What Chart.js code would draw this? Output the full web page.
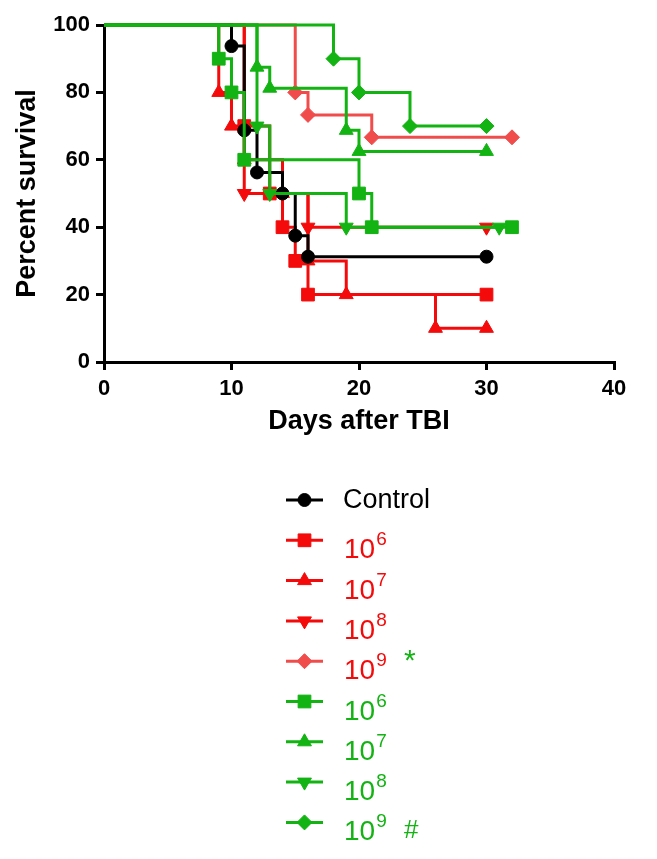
<!DOCTYPE html>
<html>
<head>
<meta charset="utf-8">
<title>Survival after TBI</title>
<script src="https://cdn.jsdelivr.net/npm/chart.js@4.4.0/dist/chart.umd.min.js"></script>
<style>
  html, body { margin: 0; padding: 0; background: #fff; }
  #wrap { width: 657px; height: 859px; }
</style>
</head>
<body>
<div id="wrap"><canvas id="survivalChart" width="657" height="859"></canvas></div>
<script>
// Kaplan-Meier steps: day of each step and percent surviving after it
const controlDays = [0, 10, 11, 12, 14, 15, 16, 30];
const controlSurvival = [100, 93.75, 68.75, 56.25, 50, 37.5, 31.25, 31.25];

const red6Days = [0, 11, 13, 14, 15, 16, 30];
const red6Survival = [100, 70, 50, 40, 30, 20, 20];
const red7Days = [0, 9, 10, 11, 14, 16, 19, 26, 30];
const red7Survival = [100, 80, 70, 60, 50, 30, 20, 10, 10];
const red8Days = [0, 11, 16, 30];
const red8Survival = [100, 50, 40, 40];
const red9Days = [0, 15, 16, 21, 32];
const red9Survival = [100, 80, 73.33, 66.67, 66.67];

const green6Days = [0, 9, 10, 11, 20, 21, 32];
const green6Survival = [100, 90, 80, 60, 50, 40, 40];
const green7Days = [0, 12, 13, 19, 20, 30];
const green7Survival = [100, 87.5, 81.25, 68.75, 62.5, 62.5];
const green8Days = [0, 12, 13, 19, 31];
const green8Survival = [100, 70, 50, 40, 40];
const green9Days = [0, 18, 20, 24, 30];
const green9Survival = [100, 90, 80, 70, 70];

const seriesNames = ['Control', '10^6', '10^7', '10^8', '10^9', '10^6', '10^7', '10^8', '10^9'];
const seriesMarks = ['', '', '', '', '*', '', '', '', '#'];

const xTicks = [0, 10, 20, 30, 40];
const yTicks = [0, 20, 40, 60, 80, 100];

const BLACK = '#000000';
const RED = '#f40a0a';
const PINK = '#f04c4c';
const GREEN = '#12b312';
const FONT = "'Liberation Sans', Arial, Helvetica, sans-serif";

function toPoints(days, survival) {
    return days.map((d, i) => ({ x: d, y: survival[i] }));
}

function makeSeries(idx, days, survival, color, textColor, style, rotation, radius, order) {
    return {
        label: seriesNames[idx],
        mark: seriesMarks[idx],
        textColor: textColor,
        data: toPoints(days, survival),
        borderColor: color,
        backgroundColor: color,
        pointBackgroundColor: color,
        pointBorderColor: color,
        pointBorderWidth: 1,
        pointStyle: style,
        pointRotation: rotation,
        legendRadius: radius,
        // no symbol on the starting point at day 0
        pointRadius: ctx => ctx.dataIndex === 0 ? 0 : radius,
        borderWidth: 3,
        stepped: true,
        fill: false,
        clip: false,
        order: order
    };
}

const datasets = [
    makeSeries(0, controlDays, controlSurvival, BLACK, BLACK, 'circle', 0, 6.5, 1),
    makeSeries(1, red6Days, red6Survival, RED, RED, 'rect', 0, 9, 2),
    makeSeries(2, red7Days, red7Survival, RED, RED, 'triangle', 0, 8, 2),
    makeSeries(3, red8Days, red8Survival, RED, RED, 'triangle', 180, 8, 2),
    makeSeries(4, red9Days, red9Survival, PINK, RED, 'rectRot', 0, 7.5, 2),
    makeSeries(5, green6Days, green6Survival, GREEN, GREEN, 'rect', 0, 9, 0),
    makeSeries(6, green7Days, green7Survival, GREEN, GREEN, 'triangle', 0, 8, 0),
    makeSeries(7, green8Days, green8Survival, GREEN, GREEN, 'triangle', 180, 8, 0),
    makeSeries(8, green9Days, green9Survival, GREEN, GREEN, 'rectRot', 0, 7.5, 0)
];

// legend stacked under the plot, drawn from the datasets themselves
const stackedLegend = {
    id: 'stackedLegend',
    afterDraw(chart, args, opts) {
        const ctx = chart.ctx;
        chart.data.datasets.forEach((ds, i) => {
            const y = opts.top + i * opts.rowGap;
            const x0 = opts.left;
            ctx.save();
            ctx.strokeStyle = ds.borderColor;
            ctx.lineWidth = 3;
            ctx.beginPath();
            ctx.moveTo(x0, y);
            ctx.lineTo(x0 + opts.lineLength, y);
            ctx.stroke();
            ctx.fillStyle = ds.pointBackgroundColor;
            ctx.lineWidth = 1;
            Chart.helpers.drawPoint(ctx, {
                pointStyle: ds.pointStyle,
                rotation: ds.pointRotation,
                radius: ds.legendRadius,
                borderWidth: 1
            }, x0 + opts.lineLength / 2, y);

            ctx.fillStyle = ds.textColor;
            ctx.textAlign = 'left';
            const parts = ds.label.split('^');
            if (parts.length === 1) {
                ctx.font = '27px ' + FONT;
                ctx.textBaseline = 'middle';
                ctx.fillText(parts[0], opts.textX, y + 1);
            } else {
                ctx.font = '28px ' + FONT;
                ctx.textBaseline = 'alphabetic';
                ctx.fillText(parts[0], opts.textX + 1, y + 18);
                const w = ctx.measureText(parts[0]).width;
                ctx.font = '19px ' + FONT;
                ctx.fillText(parts[1], opts.textX + w + 2, y + 5);
            }
            if (ds.mark) {
                ctx.fillStyle = GREEN;
                ctx.textBaseline = 'alphabetic';
                if (ds.mark === '*') {
                    ctx.font = '30px ' + FONT;
                    ctx.fillText(ds.mark, opts.markX, y + 9);
                } else {
                    ctx.font = '26px ' + FONT;
                    ctx.fillText(ds.mark, opts.markX, y + 16);
                }
            }
            ctx.restore();
        });
    }
};

const canvas = document.getElementById('survivalChart');
const chart = new Chart(canvas.getContext('2d'), {
    type: 'line',
    data: { datasets: datasets },
    plugins: [stackedLegend],
    options: {
        responsive: false,
        animation: false,
        layout: { padding: { left: 0, top: 25, right: 43, bottom: 417 } },
        plugins: {
            legend: { display: false },
            tooltip: { enabled: false },
            stackedLegend: { left: 286, lineLength: 37, textX: 343, markX: 404, top: 500, rowGap: 40.3 }
        },
        scales: {
            x: {
                type: 'linear',
                min: 0,
                max: 40,
                afterBuildTicks: s => { s.ticks = xTicks.map(v => ({ value: v })); },
                afterFit: s => { s.height = 80; },
                ticks: { color: BLACK, font: { family: FONT, size: 22, weight: 'bold' }, padding: 6, maxRotation: 0 },
                grid: { drawOnChartArea: false, drawTicks: true, tickLength: 8, color: BLACK, lineWidth: 3 },
                border: { display: true, color: BLACK, width: 3 },
                title: {
                    display: true,
                    text: 'Days after TBI',
                    color: BLACK,
                    font: { family: FONT, size: 27, weight: 'bold' },
                    padding: { top: 0, bottom: 4 }
                }
            },
            y: {
                type: 'linear',
                min: 0,
                max: 100,
                afterBuildTicks: s => { s.ticks = yTicks.map(v => ({ value: v })); },
                afterFit: s => { s.width = 104; },
                ticks: { color: BLACK, font: { family: FONT, size: 22, weight: 'bold' }, padding: 6 },
                grid: { drawOnChartArea: false, drawTicks: true, tickLength: 8, color: BLACK, lineWidth: 3 },
                border: { display: true, color: BLACK, width: 3 },
                title: {
                    display: true,
                    text: 'Percent survival',
                    color: BLACK,
                    font: { family: FONT, size: 27, weight: 'bold' },
                    padding: { top: 11, bottom: 0 }
                }
            }
        }
    }
});
</script>
</body>
</html>
